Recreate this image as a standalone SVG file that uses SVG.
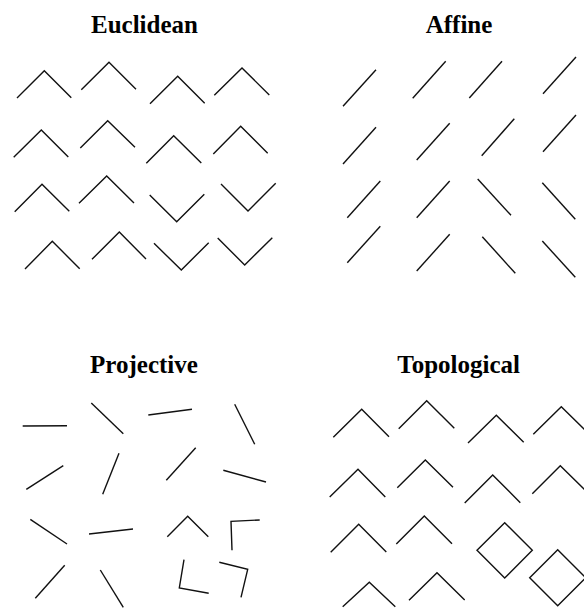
<svg xmlns="http://www.w3.org/2000/svg" width="584" height="608" viewBox="0 0 584 608">
<style>
.t{font-family:"Liberation Serif","Times New Roman",serif;font-weight:bold;font-size:25px;fill:#000;text-anchor:middle}
.s{fill:none;stroke:#111;stroke-width:1.4;stroke-linecap:butt;stroke-linejoin:miter}
</style>
<rect width="584" height="608" fill="#fff"/>
<g id="euclidean">
<text class="t" x="144.5" y="33">Euclidean</text>
<polyline class="s" points="17,98 44.3,70.7 71.3,97.7"/>
<polyline class="s" points="81.3,89.7 109,62.3 136,89.3"/>
<polyline class="s" points="150,103.7 177.7,76.3 204.7,103.3"/>
<polyline class="s" points="214.3,95.3 242,68 269.3,95"/>
<polyline class="s" points="13.7,157.3 41.3,130 68.3,157"/>
<polyline class="s" points="80.3,148 107.7,120.7 135,147.3"/>
<polyline class="s" points="146.3,163.3 173.7,135.7 201.3,163"/>
<polyline class="s" points="213.3,154 240.7,126.3 267.7,153.3"/>
<polyline class="s" points="14.7,211.7 42,184.3 69.3,211.3"/>
<polyline class="s" points="79,203.3 106.7,176 134,203"/>
<polyline class="s" points="149.7,195 176.7,221.7 204.3,194.3"/>
<polyline class="s" points="221,184 248,211 275.7,183.3"/>
<polyline class="s" points="25,269 52.3,241.3 79.7,268.7"/>
<polyline class="s" points="92,259.3 119.3,232 146,259"/>
<polyline class="s" points="154,243.3 181.3,270 208.7,242.7"/>
<polyline class="s" points="217.7,238 244.7,265 272.3,237.7"/>
</g>
<g id="affine">
<text class="t" x="459" y="33">Affine</text>
<line class="s" x1="343" y1="106.3" x2="376" y2="69.7"/>
<line class="s" x1="412.7" y1="98.3" x2="445.7" y2="61.3"/>
<line class="s" x1="469.3" y1="98" x2="502" y2="61.3"/>
<line class="s" x1="543" y1="93.7" x2="576" y2="57"/>
<line class="s" x1="343" y1="164" x2="376" y2="127.3"/>
<line class="s" x1="416.7" y1="160" x2="449.7" y2="123.3"/>
<line class="s" x1="481.7" y1="155.7" x2="514.3" y2="118.7"/>
<line class="s" x1="543" y1="151.7" x2="576" y2="115"/>
<line class="s" x1="347.3" y1="217.7" x2="380.3" y2="181"/>
<line class="s" x1="416.7" y1="217.7" x2="449.7" y2="181"/>
<line class="s" x1="477.7" y1="179" x2="511" y2="215.3"/>
<line class="s" x1="542.3" y1="182.7" x2="575.3" y2="219.3"/>
<line class="s" x1="347.3" y1="262.7" x2="380.3" y2="226.3"/>
<line class="s" x1="416.7" y1="271" x2="449.7" y2="234.3"/>
<line class="s" x1="482.3" y1="236.7" x2="515.3" y2="273.3"/>
<line class="s" x1="542.3" y1="241" x2="575.3" y2="277.3"/>
</g>
<g id="projective">
<text class="t" x="144" y="373">Projective</text>
<line class="s" x1="22.7" y1="426" x2="67" y2="425.7"/>
<line class="s" x1="91.3" y1="403" x2="123.3" y2="433.7"/>
<line class="s" x1="148.3" y1="415" x2="192" y2="409.3"/>
<line class="s" x1="234.7" y1="404.3" x2="254.7" y2="444.3"/>
<line class="s" x1="26.3" y1="489.3" x2="63.3" y2="465.7"/>
<line class="s" x1="102.7" y1="494.3" x2="119" y2="453.3"/>
<line class="s" x1="166.3" y1="480.3" x2="195.7" y2="447.7"/>
<line class="s" x1="223.3" y1="470.3" x2="266" y2="482"/>
<line class="s" x1="30.3" y1="519.3" x2="67" y2="544"/>
<line class="s" x1="89" y1="534" x2="133" y2="529"/>
<polyline class="s" points="167.3,536.7 187.7,516.3 208.3,536.7"/>
<polyline class="s" points="232,550.3 231,521.3 259.7,520"/>
<line class="s" x1="35.3" y1="598.3" x2="64.7" y2="565.3"/>
<line class="s" x1="100.3" y1="570" x2="123.3" y2="607.3"/>
<polyline class="s" points="184,559.7 179.3,588 208.7,593.3"/>
<polyline class="s" points="219.3,562.3 247.7,569.3 241,597.3"/>
</g>
<g id="topological">
<text class="t" x="458.7" y="373">Topological</text>
<polyline class="s" points="333.3,437.3 361.7,409.3 389,436.7"/>
<polyline class="s" points="398.7,428.7 426.7,400.7 454.3,428.3"/>
<polyline class="s" points="468,443 496.3,415.3 523.7,442.3"/>
<polyline class="s" points="533.3,434.3 561.3,406.7 589,434"/>
<polyline class="s" points="329.7,497 358,469.3 385.3,497"/>
<polyline class="s" points="397.3,487.7 425.3,460 453,487.3"/>
<polyline class="s" points="464.7,503 492.7,475 520.3,502.7"/>
<polyline class="s" points="532.3,493.7 560.3,465.7 588,493"/>
<polyline class="s" points="330.7,552.3 358.7,524.3 386.3,552"/>
<polyline class="s" points="396.3,544 424.3,516 452,543.7"/>
<polygon class="s" points="504.7,522.7 532.3,550.3 504.7,578 477,550.3"/>
<polygon class="s" points="557.7,549.7 585.7,577.7 557.7,605.7 529.7,577.7"/>
<polyline class="s" points="342.7,606.7 369.3,582.3 395.3,606.7"/>
<polyline class="s" points="409,600.3 437,572.7 464.7,600"/>
</g>
</svg>
